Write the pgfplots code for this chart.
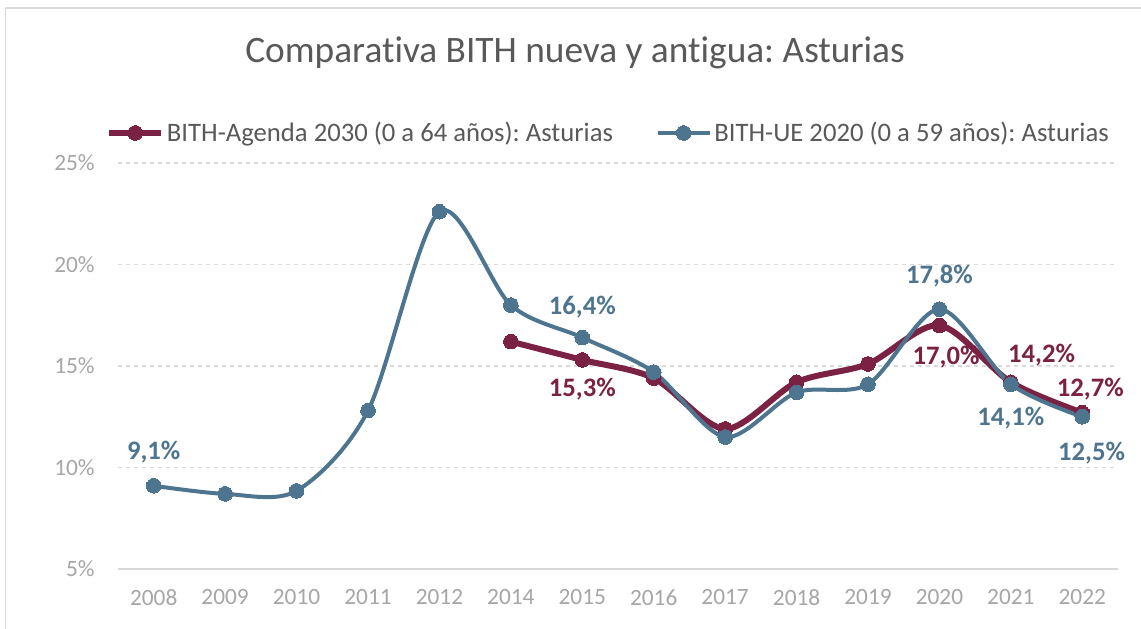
\documentclass[border=0pt]{standalone}
\usepackage{pgfplots}
\pgfplotsset{compat=1.18}
\usepackage{fontspec}
\setmainfont{Carlito}[Ligatures=NoCommon]
\frenchspacing
\definecolor{cred}{HTML}{7B2144}
\definecolor{cblue}{HTML}{4E7590}
\definecolor{tgray}{HTML}{A6A6A6}
\definecolor{ttitle}{HTML}{595959}
\definecolor{gridc}{HTML}{D9D9D9}
\begin{document}
\begin{tikzpicture}[x=1pt,y=1pt]
\useasboundingbox (-88.5,-44.25) rectangle (767.25,426.75);
\fill[white] (-88.5,-44.25) rectangle (767.25,426.75);
\draw[gridc,line width=1.2pt] (-84.5,-50) -- (-84.5,420.75) -- (780,420.75);
\node[text=ttitle,font=\fontsize{28}{32}\selectfont] at (342.75,387) {Comparativa BITH nueva y antigua: Asturias};
\begin{axis}[
  at={(0,0)}, anchor=south west,
  scale only axis, width=750pt, height=304.5pt,
  xmin=-0.5, xmax=13.5, ymin=5, ymax=25,
  xtick={0,...,13},
  xticklabels={2008,2009,2010,2011,2012,2014,2015,2016,2017,2018,2019,2020,2021,2022},
  ytick={5,10,15,20,25},
  yticklabel={\pgfmathprintnumber{\tick}\%},
  /pgf/number format/assume math mode=true,
  axis line style={draw=none},
  axis x line*=bottom, axis y line*=left,
  tick style={draw=none},
  xmajorgrids=false, ymajorgrids=true, grid style={draw=gridc, dashed, line width=0.9pt},
  ticklabel style={text=tgray, font=\fontsize{17.5}{20}\selectfont},
  xticklabel style={yshift=-12pt},
  yticklabel style={xshift=-14pt},
  clip=false,
  legend columns=2,
  legend style={draw=none, fill=none, at={(-0.016,1.074)}, anchor=west,
    font=\fontsize{20}{23}\selectfont, text=ttitle,
    /tikz/every even column/.append style={column sep=30pt}},
  legend image code/.code={\draw[#1, mark repeat=2, mark phase=2] plot coordinates {(0pt,0pt) (19.5pt,0pt) (39pt,0pt)};},
]
\draw[gridc, line width=2.2pt] (axis cs:-0.5,5) -- (axis cs:13.5,5);
\addplot[cred, line width=4.5pt, smooth, tension=0.5, mark=*, mark size=5.5pt, mark options={solid, fill=cred, line width=0pt}]
  coordinates {(5,16.2)(6,15.3)(7,14.4)(8,11.9)(9,14.2)(10,15.1)(11,17.0)(12,14.2)(13,12.7)};
\addlegendentry{BITH-Agenda 2030 (0 a 64 años): Asturias}
\addplot[cblue, line width=3pt, smooth, tension=0.5, mark=*, mark size=5.5pt, mark options={solid, fill=cblue, line width=0pt}]
  coordinates {(0,9.1)(1,8.7)(2,8.85)(3,12.8)(4,22.6)(5,18.0)(6,16.4)(7,14.7)(8,11.5)(9,13.7)(10,14.1)(11,17.8)(12,14.1)(13,12.5)};
\addlegendentry{BITH-UE 2020 (0 a 59 años): Asturias}
% labels
\pgfplotsset{lab/.style={draw=none, forget plot, point meta=explicit symbolic, nodes near coords,
  every node near coord/.style={anchor=center, font=\bfseries\fontsize{20}{23}\selectfont, text=#1}}}
\addplot[lab=cblue, every node near coord/.append style={yshift=25pt}] coordinates {(0,9.1)[9,1\%] (11,17.8)[17,8\%]};
\addplot[lab=cblue, every node near coord/.append style={yshift=22.5pt}] coordinates {(6,16.4)[16,4\%]};
\addplot[lab=cblue, every node near coord/.append style={yshift=-25.5pt}] coordinates {(12,14.1)[14,1\%]};
\addplot[lab=cblue, every node near coord/.append style={yshift=-27pt, xshift=7pt}] coordinates {(13,12.5)[12,5\%]};
\addplot[lab=cred, every node near coord/.append style={yshift=-22pt}] coordinates {(6,15.3)[15,3\%]};
\addplot[lab=cred, every node near coord/.append style={yshift=-24pt, xshift=5pt}] coordinates {(11,17.0)[17,0\%]};
\addplot[lab=cred, every node near coord/.append style={yshift=20pt, xshift=23pt}] coordinates {(12,14.2)[14,2\%]};
\addplot[lab=cred, every node near coord/.append style={yshift=18pt, xshift=6pt}] coordinates {(13,12.7)[12,7\%]};
\end{axis}
\end{tikzpicture}
\end{document}
